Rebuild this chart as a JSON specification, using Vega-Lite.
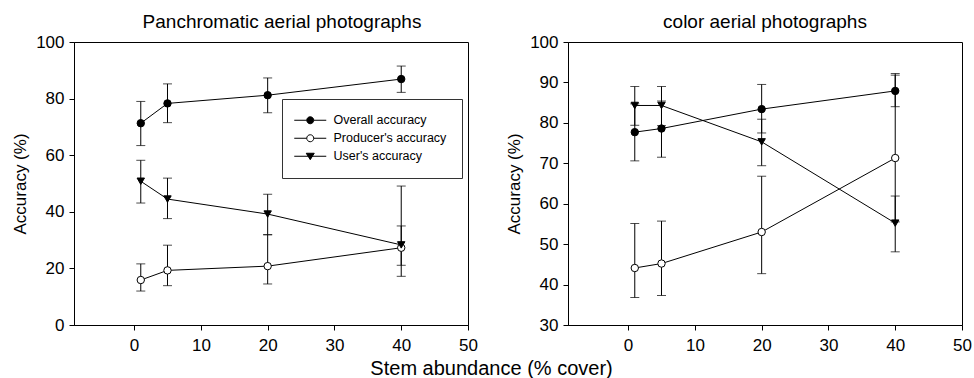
{
  "$schema": "https://vega.github.io/schema/vega-lite/v6.json",
  "background": "white",
  "padding": {"left": 11, "top": 12, "right": 0, "bottom": 0},
  "datasets": {
    "left": [
      {"series": "Overall accuracy", "cover": 1, "acc": 71.3, "lo": 63.4, "hi": 79.0},
      {"series": "Overall accuracy", "cover": 5, "acc": 78.3, "lo": 71.5, "hi": 85.2},
      {"series": "Overall accuracy", "cover": 20, "acc": 81.2, "lo": 75.0, "hi": 87.3},
      {"series": "Overall accuracy", "cover": 40, "acc": 86.9, "lo": 82.2, "hi": 91.5},
      {"series": "Producer's accuracy", "cover": 1, "acc": 15.9, "lo": 12.0, "hi": 21.6},
      {"series": "Producer's accuracy", "cover": 5, "acc": 19.3, "lo": 13.9, "hi": 28.2},
      {"series": "Producer's accuracy", "cover": 20, "acc": 20.8, "lo": 14.5, "hi": 31.9},
      {"series": "Producer's accuracy", "cover": 40, "acc": 27.3, "lo": 21.1, "hi": 35.0},
      {"series": "User's accuracy", "cover": 1, "acc": 50.8, "lo": 43.1, "hi": 58.2},
      {"series": "User's accuracy", "cover": 5, "acc": 44.5, "lo": 37.6, "hi": 51.9},
      {"series": "User's accuracy", "cover": 20, "acc": 39.2, "lo": 31.9, "hi": 46.2},
      {"series": "User's accuracy", "cover": 40, "acc": 28.3, "lo": 17.2, "hi": 49.1}
    ],
    "right": [
      {"series": "Overall accuracy", "cover": 1, "acc": 77.7, "lo": 70.6, "hi": 84.7},
      {"series": "Overall accuracy", "cover": 5, "acc": 78.6, "lo": 71.5, "hi": 85.4},
      {"series": "Overall accuracy", "cover": 20, "acc": 83.4, "lo": 77.5, "hi": 89.5},
      {"series": "Overall accuracy", "cover": 40, "acc": 87.9, "lo": 84.0, "hi": 92.2},
      {"series": "Producer's accuracy", "cover": 1, "acc": 44.1, "lo": 36.8, "hi": 55.1},
      {"series": "Producer's accuracy", "cover": 5, "acc": 45.2, "lo": 37.3, "hi": 55.7},
      {"series": "Producer's accuracy", "cover": 20, "acc": 53.0, "lo": 42.7, "hi": 66.8},
      {"series": "Producer's accuracy", "cover": 40, "acc": 71.3, "lo": 55.5, "hi": 91.8},
      {"series": "User's accuracy", "cover": 1, "acc": 84.3, "lo": 79.4, "hi": 89.0},
      {"series": "User's accuracy", "cover": 5, "acc": 84.3, "lo": 79.3, "hi": 89.0},
      {"series": "User's accuracy", "cover": 20, "acc": 75.3, "lo": 69.4, "hi": 80.9},
      {"series": "User's accuracy", "cover": 40, "acc": 55.2, "lo": 48.1, "hi": 61.9}
    ]
  },
  "title": {"text": "Stem abundance (% cover)", "orient": "bottom", "anchor": "middle", "fontSize": 20, "fontWeight": "normal", "font": "Liberation Sans", "color": "black", "offset": 5},
  "spacing": 27,
  "hconcat": [
    {
      "width": 394,
      "height": 283,
      "title": {"text": "Panchromatic aerial photographs", "dx": 11},
      "data": {"name": "left"},
      "encoding": {
        "x": {"field": "cover", "type": "quantitative", "scale": {"domain": [-9, 50], "nice": false, "zero": false}, "axis": {"values": [0, 10, 20, 30, 40, 50], "title": null, "labelFlush": false, "labelPadding": 7}}
      },
      "layer": [
        {
          "mark": {"type": "rule", "color": "black", "strokeWidth": 1},
          "encoding": {
            "y": {"field": "lo", "type": "quantitative", "title": "Accuracy (%)", "scale": {"domain": [0, 100], "nice": false, "zero": false}, "axis": {"values": [0, 20, 40, 60, 80, 100], "title": "Accuracy (%)"}},
            "y2": {"field": "hi"}
          }
        },
        {
          "mark": {"type": "tick", "orient": "horizontal", "color": "black", "size": 9, "thickness": 1},
          "encoding": {"y": {"field": "lo", "type": "quantitative", "title": "Accuracy (%)"}}
        },
        {
          "mark": {"type": "tick", "orient": "horizontal", "color": "black", "size": 9, "thickness": 1},
          "encoding": {"y": {"field": "hi", "type": "quantitative", "title": "Accuracy (%)"}}
        },
        {
          "mark": {"type": "line", "color": "black", "strokeWidth": 1},
          "encoding": {"y": {"field": "acc", "type": "quantitative", "title": "Accuracy (%)"}, "detail": {"field": "series"}}
        },
        {
          "mark": {"type": "point", "stroke": "black", "strokeWidth": 1, "opacity": 1, "size": 55},
          "encoding": {
            "y": {"field": "acc", "type": "quantitative", "title": "Accuracy (%)"},
            "shape": {"field": "series", "type": "nominal", "scale": {"domain": ["Overall accuracy", "Producer's accuracy", "User's accuracy"], "range": ["circle", "circle", "triangle-down"]}, "legend": null},
            "fill": {"field": "series", "type": "nominal", "scale": {"domain": ["Overall accuracy", "Producer's accuracy", "User's accuracy"], "range": ["black", "white", "black"]}, "legend": null}
          }
        },
        {
          "mark": {"type": "point", "stroke": "black", "strokeWidth": 1, "opacity": 0, "size": 64},
          "encoding": {
            "y": {"field": "acc", "type": "quantitative", "title": "Accuracy (%)"},
            "shape": {"field": "series", "type": "nominal", "scale": {"domain": ["Overall accuracy", "Producer's accuracy", "User's accuracy"], "range": ["M-4,0H-0.875M0.875,0H4M0.875,0A0.875,0.875,0,1,1,-0.875,0A0.875,0.875,0,1,1,0.875,0Z", "M-4,0H-0.875M0.875,0H4M0.875,0A0.875,0.875,0,1,1,-0.875,0A0.875,0.875,0,1,1,0.875,0Z", "M-4,0H4M-1,-0.75L1,-0.75L0,0.85Z"]},
              "legend": {"title": null, "orient": "none", "legendX": 208, "legendY": 57, "strokeColor": "#333", "fillColor": "white", "padding": 15, "symbolSize": 64, "symbolStrokeWidth": 1, "symbolStrokeColor": "black", "symbolOpacity": 1, "labelFontSize": 12.5, "labelFont": "Liberation Sans", "labelColor": "black", "symbolOffset": 7, "labelOffset": 17, "rowPadding": 5, "encode": {"symbols": {"update": {"opacity": {"value": 1}}}}}},
            "fill": {"field": "series", "type": "nominal", "scale": {"domain": ["Overall accuracy", "Producer's accuracy", "User's accuracy"], "range": ["black", "white", "black"]},
              "legend": {"title": null, "orient": "none", "legendX": 208, "legendY": 57, "strokeColor": "#333", "fillColor": "white", "padding": 15, "symbolSize": 64, "symbolStrokeWidth": 1, "symbolStrokeColor": "black", "symbolOpacity": 1, "labelFontSize": 12.5, "labelFont": "Liberation Sans", "labelColor": "black", "symbolOffset": 7, "labelOffset": 17, "rowPadding": 5, "encode": {"symbols": {"update": {"opacity": {"value": 1}}}}}}
          }
        }
      ],
      "resolve": {"scale": {"shape": "independent", "fill": "independent"}}
    },
    {
      "width": 394,
      "height": 283,
      "title": {"text": "color aerial photographs"},
      "data": {"name": "right"},
      "encoding": {
        "x": {"field": "cover", "type": "quantitative", "scale": {"domain": [-9, 50], "nice": false, "zero": false}, "axis": {"values": [0, 10, 20, 30, 40, 50], "title": null, "labelFlush": false, "labelPadding": 7}}
      },
      "layer": [
        {
          "mark": {"type": "rule", "color": "black", "strokeWidth": 1},
          "encoding": {
            "y": {"field": "lo", "type": "quantitative", "title": "Accuracy (%)", "scale": {"domain": [30, 100], "nice": false, "zero": false}, "axis": {"values": [30, 40, 50, 60, 70, 80, 90, 100], "title": "Accuracy (%)"}},
            "y2": {"field": "hi"}
          }
        },
        {
          "mark": {"type": "tick", "orient": "horizontal", "color": "black", "size": 9, "thickness": 1},
          "encoding": {"y": {"field": "lo", "type": "quantitative", "title": "Accuracy (%)"}}
        },
        {
          "mark": {"type": "tick", "orient": "horizontal", "color": "black", "size": 9, "thickness": 1},
          "encoding": {"y": {"field": "hi", "type": "quantitative", "title": "Accuracy (%)"}}
        },
        {
          "mark": {"type": "line", "color": "black", "strokeWidth": 1},
          "encoding": {"y": {"field": "acc", "type": "quantitative", "title": "Accuracy (%)"}, "detail": {"field": "series"}}
        },
        {
          "mark": {"type": "point", "stroke": "black", "strokeWidth": 1, "opacity": 1, "size": 55},
          "encoding": {
            "y": {"field": "acc", "type": "quantitative", "title": "Accuracy (%)"},
            "shape": {"field": "series", "type": "nominal", "scale": {"domain": ["Overall accuracy", "Producer's accuracy", "User's accuracy"], "range": ["circle", "circle", "triangle-down"]}, "legend": null},
            "fill": {"field": "series", "type": "nominal", "scale": {"domain": ["Overall accuracy", "Producer's accuracy", "User's accuracy"], "range": ["black", "white", "black"]}, "legend": null}
          }
        }
      ]
    }
  ],
  "config": {
    "font": "Liberation Sans",
    "view": {"stroke": "black", "strokeWidth": 1},
    "axis": {"domainColor": "black", "tickColor": "black", "labelColor": "black", "titleColor": "black", "labelFontSize": 17, "titleFontSize": 17, "titleFontWeight": "normal", "tickSize": 5, "labelPadding": 5, "grid": false, "titlePadding": 6, "labelFont": "Liberation Sans", "titleFont": "Liberation Sans"},
    "title": {"fontSize": 19, "fontWeight": "normal", "color": "black", "font": "Liberation Sans", "offset": 1}
  }
}
